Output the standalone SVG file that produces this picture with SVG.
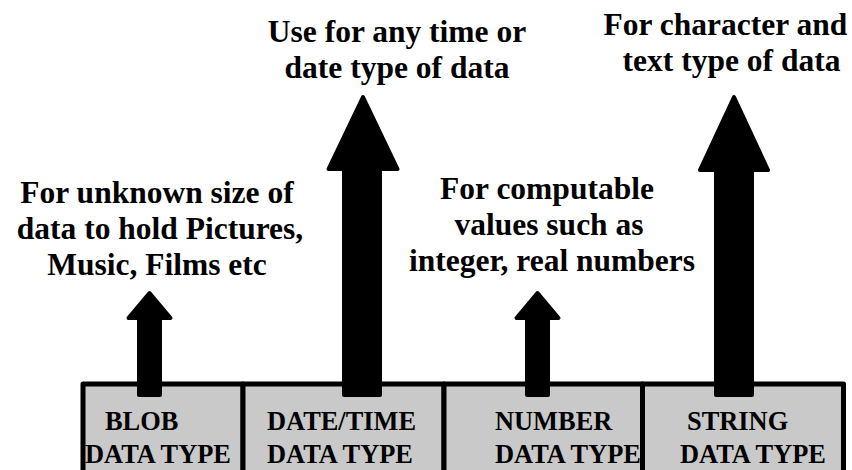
<svg xmlns="http://www.w3.org/2000/svg" width="852" height="470" viewBox="0 0 852 470">
<style>
.cell{fill:#c9c9c9;stroke:#000;stroke-width:5;stroke-linejoin:round}
.lbl{font-weight:bold;font-size:26.4px;fill:#000}
.note{font-weight:bold;font-size:31.5px;fill:#000;text-anchor:middle}
.arrow{fill:#000;stroke:#000;stroke-width:4;stroke-linejoin:round}
</style>
<rect width="852" height="470" fill="#fff"/>
<g font-family="serif">
<g id="blob">
<rect class="cell" x="83" y="384" width="160" height="92"/>
<text class="lbl" x="105" y="430">BLOB</text>
<text class="lbl" x="85" y="463">DATA TYPE</text>
</g>
<g id="datetime">
<rect class="cell" x="243" y="384" width="201" height="92"/>
<text class="lbl" x="267" y="430">DATE/TIME</text>
<text class="lbl" x="267" y="463">DATA TYPE</text>
</g>
<g id="number">
<rect class="cell" x="444" y="384" width="198.5" height="92"/>
<text class="lbl" x="495" y="430">NUMBER</text>
<text class="lbl" x="495" y="463">DATA TYPE</text>
</g>
<g id="string">
<rect class="cell" x="642.5" y="384" width="201" height="92"/>
<text class="lbl" x="687" y="430">STRING</text>
<text class="lbl" x="680" y="463">DATA TYPE</text>
</g>
<g id="connectors">
<path class="arrow" d="M149.5,293 L170.5,318 L160,318 L160,395 L139,395 L139,318 L128.5,318 Z"/>
<path class="arrow" d="M363,97 L397.5,169 L380,169 L380,395 L344,395 L344,169 L328.5,169 Z"/>
<path class="arrow" d="M537.5,293 L558.5,318 L548,318 L548,395 L527,395 L527,318 L516.5,318 Z"/>
<path class="arrow" d="M734,97 L768,170 L752,170 L752,395 L716,395 L716,170 L700,170 Z"/>
</g>
<g id="note-blob">
<text class="note" x="157" y="203">For unknown size of</text>
<text class="note" x="160" y="239">data to hold Pictures,</text>
<text class="note" x="157" y="275">Music, Films etc</text>
</g>
<g id="note-datetime">
<text class="note" x="397" y="42">Use for any time or</text>
<text class="note" x="397" y="78">date type of data</text>
</g>
<g id="note-number">
<text class="note" x="547" y="199">For computable</text>
<text class="note" x="549" y="235">values such as</text>
<text class="note" x="552" y="271">integer, real numbers</text>
</g>
<g id="note-string">
<text class="note" x="725.5" y="35">For character and</text>
<text class="note" x="731.5" y="71">text type of data</text>
</g>
</g>
</svg>
